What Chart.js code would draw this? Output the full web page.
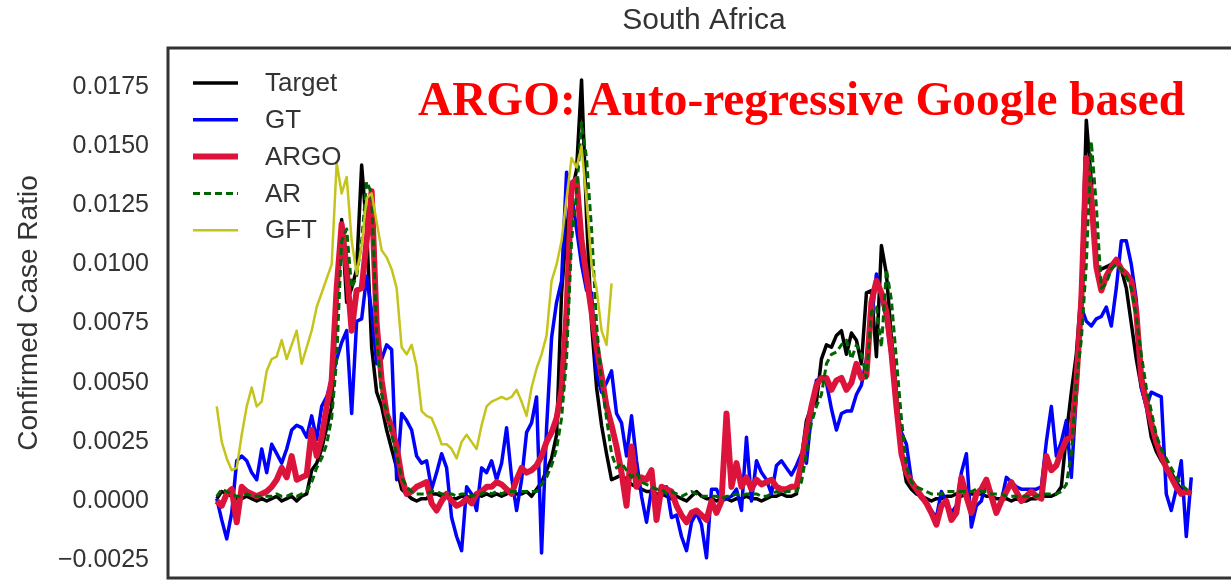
<!DOCTYPE html>
<html>
<head>
<meta charset="utf-8">
<script src="https://cdn.jsdelivr.net/npm/chart.js@4"></script>
<style>
  html, body { margin: 0; padding: 0; background: #fff; overflow: hidden; }
  #wrap { position: absolute; left: 0; top: 0; width: 1250px; height: 583px; }
</style>
</head>
<body>
<div id="wrap"><canvas id="chart" width="1250" height="583"></canvas></div>
<script>
// weekly confirmed case ratio, South Africa
const target = [
  0.0001, 0.0004, 0.0003, 0.0002, 0.0001, 0.0001, 0.0002, 0.0001, 0.0000, 0.0001,
  0.0000, 0.0001, 0.0002, 0.0000, 0.0001, 0.0002, 0.0000, 0.0002, 0.0003, 0.0013,
  0.0016, 0.0022, 0.0031, 0.0040, 0.0090, 0.0119, 0.0084, 0.0090, 0.0098, 0.0142,
  0.0115, 0.0065, 0.0046, 0.0040, 0.0030, 0.0022, 0.0014, 0.0005, 0.0003, 0.0001,
  0.0000, 0.0001, 0.0001, 0.0003, 0.0003, 0.0002, 0.0002, 0.0001, 0.0001, 0.0002,
  0.0002, 0.0001, 0.0003, 0.0002, 0.0003, 0.0002, 0.0003, 0.0002, 0.0003, 0.0004,
  0.0003, 0.0003, 0.0004, 0.0002, 0.0005, 0.0008, 0.0013, 0.0018, 0.0028, 0.0088,
  0.0115, 0.0130, 0.0140, 0.0178, 0.0120, 0.0075, 0.0048, 0.0032, 0.0020, 0.0009,
  0.0010, 0.0011, 0.0009, 0.0007, 0.0006, 0.0005, 0.0004, 0.0004, 0.0003, 0.0003,
  0.0002, 0.0001, 0.0002, 0.0001, 0.0000, 0.0002, 0.0004, 0.0002, 0.0001, 0.0001,
  0.0000, 0.0001, 0.0001, 0.0000, 0.0001, 0.0001, 0.0002, 0.0001, 0.0001, 0.0000,
  0.0001, 0.0002, 0.0002, 0.0003, 0.0002, 0.0002, 0.0003, 0.0018, 0.0034, 0.0040,
  0.0042, 0.0060, 0.0066, 0.0065, 0.0070, 0.0072, 0.0062, 0.0071, 0.0068, 0.0058,
  0.0088, 0.0089, 0.0061, 0.0108, 0.0096, 0.0069, 0.0046, 0.0020, 0.0008, 0.0005,
  0.0003, 0.0002, 0.0001, 0.0000, 0.0001, 0.0001, 0.0002, 0.0002, 0.0003, 0.0002,
  0.0003, 0.0003, 0.0003, 0.0003, 0.0002, 0.0002, 0.0001, 0.0001, 0.0001, 0.0000,
  0.0001, 0.0000, 0.0000, 0.0001, 0.0001, 0.0002, 0.0002, 0.0002, 0.0003, 0.0006,
  0.0028, 0.0046, 0.0062, 0.0090, 0.0161, 0.0135, 0.0098, 0.0098, 0.0099, 0.0100,
  0.0102, 0.0098, 0.0090, 0.0075, 0.0060, 0.0048, 0.0040, 0.0027, 0.0021, 0.0017,
  0.0014, 0.0012, 0.0008, 0.0005, 0.0004, 0.0003
];

const gt = [
  0.0001, -0.0008, -0.0016, -0.0005, 0.0017, 0.0019, 0.0017, 0.0012, 0.0009, 0.0022,
  0.0012, 0.0024, 0.0020, 0.0016, 0.0022, 0.0030, 0.0032, 0.0031, 0.0027, 0.0036,
  0.0026, 0.0040, 0.0044, 0.0051, 0.0060, 0.0067, 0.0072, 0.0037, 0.0076, 0.0077,
  0.0095, 0.0080, 0.0058, 0.0060, 0.0066, 0.0064, 0.0009, 0.0037, 0.0034, 0.0030,
  0.0019, 0.0016, 0.0017, 0.0005, 0.0012, 0.0020, 0.0014, -0.0007, -0.0015, -0.0021,
  0.0006, 0.0003, -0.0004, 0.0014, 0.0012, 0.0017, 0.0009, 0.0016, 0.0031, 0.0010,
  -0.0004, 0.0009, 0.0029, 0.0033, 0.0044, -0.0022, 0.0031, 0.0069, 0.0084, 0.0093,
  0.0139, 0.0130, 0.0115, 0.0100, 0.0089, 0.0088, 0.0054, 0.0046, 0.0050, 0.0055,
  0.0037, 0.0033, 0.0019, 0.0036, 0.0017, 0.0002, -0.0009, 0.0005, -0.0001, 0.0002,
  0.0006, -0.0007, -0.0006, -0.0015, -0.0021, -0.0009, -0.0005, -0.0010, -0.0024, 0.0005,
  0.0005, 0.0000, 0.0001, 0.0002, 0.0005, -0.0004, 0.0027, 0.0000, 0.0017, 0.0012,
  0.0009, 0.0003, 0.0015, 0.0017, 0.0014, 0.0011, 0.0015, 0.0020, 0.0016, 0.0037,
  0.0051, 0.0052, 0.0050, 0.0039, 0.0030, 0.0037, 0.0038, 0.0038, 0.0045, 0.0049,
  0.0060, 0.0076, 0.0096, 0.0086, 0.0077, 0.0060, 0.0040, 0.0029, 0.0024, 0.0009,
  0.0004, 0.0001, 0.0000, -0.0004, -0.0007, 0.0004, 0.0000, -0.0005, -0.0002, 0.0012,
  0.0020, -0.0011, -0.0002, 0.0000, 0.0009, 0.0003, -0.0005, 0.0000, 0.0010, 0.0008,
  0.0006, 0.0005, 0.0005, 0.0005, 0.0005, 0.0006, 0.0025, 0.0040, 0.0019, 0.0025,
  0.0034, 0.0010, 0.0045, 0.0082, 0.0076, 0.0074, 0.0077, 0.0078, 0.0082, 0.0074,
  0.0090, 0.0110, 0.0110, 0.0100, 0.0085, 0.0048, 0.0040, 0.0046, 0.0045, 0.0044,
  0.0003, -0.0004, 0.0005, 0.0017, -0.0015, 0.0010
];

const argo = [
  0.0000, -0.0002, 0.0003, 0.0005, -0.0009, 0.0006, 0.0004, 0.0003, 0.0002, 0.0003,
  0.0004, 0.0006, 0.0009, 0.0014, 0.0010, 0.0019, 0.0009, 0.0010, 0.0011, 0.0030,
  0.0019, 0.0027, 0.0040, 0.0051, 0.0090, 0.0117, 0.0098, 0.0072, 0.0089, 0.0090,
  0.0110, 0.0131, 0.0075, 0.0051, 0.0037, 0.0031, 0.0023, 0.0010, 0.0003, 0.0004,
  0.0006, 0.0007, 0.0008, -0.0001, -0.0004, 0.0000, 0.0003, 0.0000, -0.0002, -0.0001,
  0.0001, -0.0001, 0.0003, 0.0004, 0.0006, 0.0006, 0.0008, 0.0007, 0.0005, 0.0003,
  0.0009, 0.0014, 0.0012, 0.0013, 0.0015, 0.0019, 0.0025, 0.0029, 0.0035, 0.0047,
  0.0080, 0.0134, 0.0136, 0.0110, 0.0095, 0.0080, 0.0065, 0.0053, 0.0040, 0.0032,
  0.0023, 0.0012, -0.0002, 0.0023, 0.0006, 0.0010, 0.0009, 0.0013, -0.0008, 0.0006,
  0.0005, 0.0004, -0.0002, -0.0006, -0.0009, -0.0005, -0.0004, -0.0006, -0.0008, 0.0000,
  -0.0005, 0.0000, 0.0037, 0.0006, 0.0016, 0.0006, 0.0010, 0.0005, 0.0009, 0.0007,
  0.0008, 0.0009, 0.0006, 0.0005, 0.0005, 0.0006, 0.0006, 0.0016, 0.0029, 0.0040,
  0.0049, 0.0052, 0.0052, 0.0047, 0.0051, 0.0052, 0.0047, 0.0050, 0.0058, 0.0052,
  0.0053, 0.0084, 0.0093, 0.0088, 0.0080, 0.0063, 0.0040, 0.0020, 0.0012, 0.0008,
  0.0005, 0.0002, -0.0001, -0.0005, -0.0010, -0.0002, 0.0000, -0.0008, -0.0005, 0.0010,
  0.0002, -0.0005, 0.0003, 0.0005, 0.0009, 0.0002, -0.0005, 0.0000, 0.0004, 0.0008,
  0.0004, 0.0000, 0.0002, 0.0004, 0.0002, 0.0001, 0.0019, 0.0013, 0.0015, 0.0021,
  0.0026, 0.0027, 0.0050, 0.0085, 0.0145, 0.0128, 0.0099, 0.0089, 0.0095, 0.0099,
  0.0102, 0.0098, 0.0096, 0.0093, 0.0080, 0.0052, 0.0042, 0.0033, 0.0025, 0.0019,
  0.0014, 0.0010, 0.0006, 0.0003, 0.0004, 0.0003
];

const ar = [
  0.0002, 0.0005, 0.0004, 0.0003, 0.0002, 0.0002, 0.0003, 0.0002, 0.0002, 0.0002,
  0.0002, 0.0002, 0.0003, 0.0002, 0.0002, 0.0003, 0.0002, 0.0003, 0.0004, 0.0008,
  0.0014, 0.0018, 0.0024, 0.0035, 0.0060, 0.0110, 0.0115, 0.0090, 0.0095, 0.0110,
  0.0135, 0.0130, 0.0070, 0.0045, 0.0038, 0.0028, 0.0020, 0.0010, 0.0006, 0.0004,
  0.0003, 0.0003, 0.0003, 0.0004, 0.0004, 0.0003, 0.0003, 0.0003, 0.0002, 0.0003,
  0.0003, 0.0002, 0.0003, 0.0003, 0.0004, 0.0003, 0.0004, 0.0003, 0.0004, 0.0004,
  0.0004, 0.0004, 0.0004, 0.0004, 0.0004, 0.0007, 0.0010, 0.0015, 0.0022, 0.0035,
  0.0060, 0.0110, 0.0130, 0.0160, 0.0145, 0.0115, 0.0075, 0.0050, 0.0035, 0.0020,
  0.0014, 0.0016, 0.0013, 0.0010, 0.0012, 0.0008, 0.0007, 0.0006, 0.0005, 0.0005,
  0.0003, 0.0004, 0.0003, 0.0002, 0.0003, 0.0004, 0.0003, 0.0002, 0.0002, 0.0002,
  0.0002, 0.0001, 0.0002, 0.0002, 0.0003, 0.0002, 0.0003, 0.0003, 0.0003, 0.0002,
  0.0002, 0.0003, 0.0004, 0.0003, 0.0004, 0.0004, 0.0004, 0.0008, 0.0020, 0.0033,
  0.0040, 0.0045, 0.0058, 0.0062, 0.0063, 0.0066, 0.0068, 0.0060, 0.0066, 0.0062,
  0.0052, 0.0080, 0.0082, 0.0065, 0.0098, 0.0085, 0.0060, 0.0035, 0.0015, 0.0008,
  0.0006, 0.0005, 0.0004, 0.0003, 0.0003, 0.0003, 0.0004, 0.0004, 0.0004, 0.0004,
  0.0004, 0.0004, 0.0005, 0.0004, 0.0004, 0.0003, 0.0003, 0.0003, 0.0002, 0.0002,
  0.0002, 0.0002, 0.0002, 0.0002, 0.0002, 0.0003, 0.0003, 0.0003, 0.0003, 0.0004,
  0.0007, 0.0020, 0.0050, 0.0068, 0.0100, 0.0152, 0.0125, 0.0090, 0.0092, 0.0098,
  0.0100, 0.0098, 0.0095, 0.0090, 0.0078, 0.0062, 0.0048, 0.0038, 0.0028, 0.0022,
  0.0018, 0.0014, 0.0010, 0.0007, 0.0005, 0.0004
];

// GFT stops after the second season
const gft = [
  0.0040, 0.0025, 0.0018, 0.0013, 0.0014, 0.0028, 0.0040, 0.0048, 0.0040, 0.0042,
  0.0055, 0.0060, 0.0061, 0.0068, 0.0060, 0.0066, 0.0072, 0.0058, 0.0065, 0.0072,
  0.0082, 0.0088, 0.0094, 0.0100, 0.0143, 0.0130, 0.0137, 0.0110, 0.0096, 0.0108,
  0.0128, 0.0130, 0.0118, 0.0106, 0.0103, 0.0098, 0.0090, 0.0065, 0.0062, 0.0066,
  0.0057, 0.0038, 0.0036, 0.0035, 0.0030, 0.0024, 0.0024, 0.0022, 0.0018, 0.0025,
  0.0028, 0.0025, 0.0022, 0.0032, 0.0040, 0.0042, 0.0043, 0.0044, 0.0043, 0.0044,
  0.0047, 0.0042, 0.0036, 0.0048, 0.0056, 0.0062, 0.0070, 0.0093, 0.0100, 0.0110,
  0.0128, 0.0145, 0.0141, 0.0150, 0.0127, 0.0100, 0.0090, 0.0072, 0.0066, 0.0092
];

const yTicks = [-0.0025, 0, 0.0025, 0.005, 0.0075, 0.01, 0.0125, 0.015, 0.0175];

const weeks = target.map((_, i) => i);

const textColor = '#333333';
const sansFont = "'Liberation Sans', Arial, sans-serif";

const datasets = [
  { label: 'Target', data: target, borderColor: '#000000', borderWidth: 3.5, order: 4 },
  { label: 'GT', data: gt, borderColor: '#0000ff', borderWidth: 3.5, order: 3 },
  { label: 'ARGO', data: argo, borderColor: '#dc143c', borderWidth: 6, order: 2 },
  { label: 'AR', data: ar, borderColor: '#006400', borderWidth: 3, borderDash: [7, 4], order: 1 },
  { label: 'GFT', data: gft, borderColor: '#c4c41c', borderWidth: 2.5, order: 0 }
].map(d => Object.assign({
  fill: false,
  tension: 0,
  pointRadius: 0,
  pointHoverRadius: 0,
  borderJoinStyle: 'round',
  borderCapStyle: 'butt'
}, d));

// title, frame, legend and the red caption
const decorations = {
  id: 'decorations',
  afterDatasetsDraw(chart) {
    const { ctx, chartArea } = chart;
    ctx.save();
    ctx.strokeStyle = '#333333';
    ctx.lineWidth = 3;
    ctx.strokeRect(chartArea.left, chartArea.top, chartArea.right - chartArea.left, chartArea.bottom - chartArea.top);

    // legend
    ctx.font = '26px ' + sansFont;
    ctx.textBaseline = 'middle';
    ctx.textAlign = 'left';
    datasets.forEach((ds, i) => {
      const y = 83 + i * 36.8;
      ctx.beginPath();
      ctx.strokeStyle = ds.borderColor;
      ctx.lineWidth = ds.borderWidth;
      ctx.lineCap = 'butt';
      ctx.setLineDash(ds.borderDash || []);
      ctx.moveTo(193, y);
      ctx.lineTo(238, y);
      ctx.stroke();
      ctx.setLineDash([]);
      ctx.fillStyle = textColor;
      ctx.fillText(ds.label, 265, y + 1);
    });

    // title
    ctx.font = '30px ' + sansFont;
    ctx.textAlign = 'center';
    ctx.fillText('South Africa', (chartArea.left + chartArea.right) / 2, 21);
    ctx.restore();
  },
  afterDraw(chart) {
    const { ctx } = chart;
    ctx.save();
    ctx.font = "bold 48px 'Liberation Serif', 'Times New Roman', serif";
    ctx.fillStyle = '#ff0000';
    ctx.textBaseline = 'alphabetic';
    const text = 'ARGO: Auto-regressive Google based';
    const w = ctx.measureText(text).width;
    ctx.translate(418, 115);
    ctx.scale(767 / w, 1);
    ctx.fillText(text, 0, 0);
    ctx.restore();
  }
};

const config = {
  type: 'line',
  data: { labels: weeks, datasets: datasets },
  options: {
    responsive: false,
    animation: false,
    layout: { padding: { top: 48, right: 10, bottom: 5, left: 0 } },
    plugins: {
      legend: { display: false },
      tooltip: { enabled: false },
      title: { display: false }
    },
    scales: {
      x: {
        type: 'linear',
        display: false,
        min: -9.75,
        max: 204.75
      },
      y: {
        position: 'left',
        min: -0.003255,
        max: 0.01915,
        afterFit: scale => {
          scale.width = 168;
          scale.paddingTop = 0;
          scale.paddingBottom = 0;
        },
        afterBuildTicks: scale => { scale.ticks = yTicks.map(v => ({ value: v })); },
        grid: { display: false, drawTicks: false },
        border: { display: false },
        ticks: {
          autoSkip: false,
          padding: 19,
          color: textColor,
          font: { family: sansFont, size: 25 },
          callback: v => (v < 0 ? '\u2212' : '') + Math.abs(v).toFixed(4)
        },
        title: {
          display: true,
          text: 'Confirmed Case Ratio',
          color: textColor,
          font: { family: sansFont, size: 28 },
          padding: { top: 12, bottom: 0 }
        }
      }
    }
  },
  plugins: [decorations]
};

const myChart = new Chart(document.getElementById('chart'), config);
</script>
</body>
</html>
